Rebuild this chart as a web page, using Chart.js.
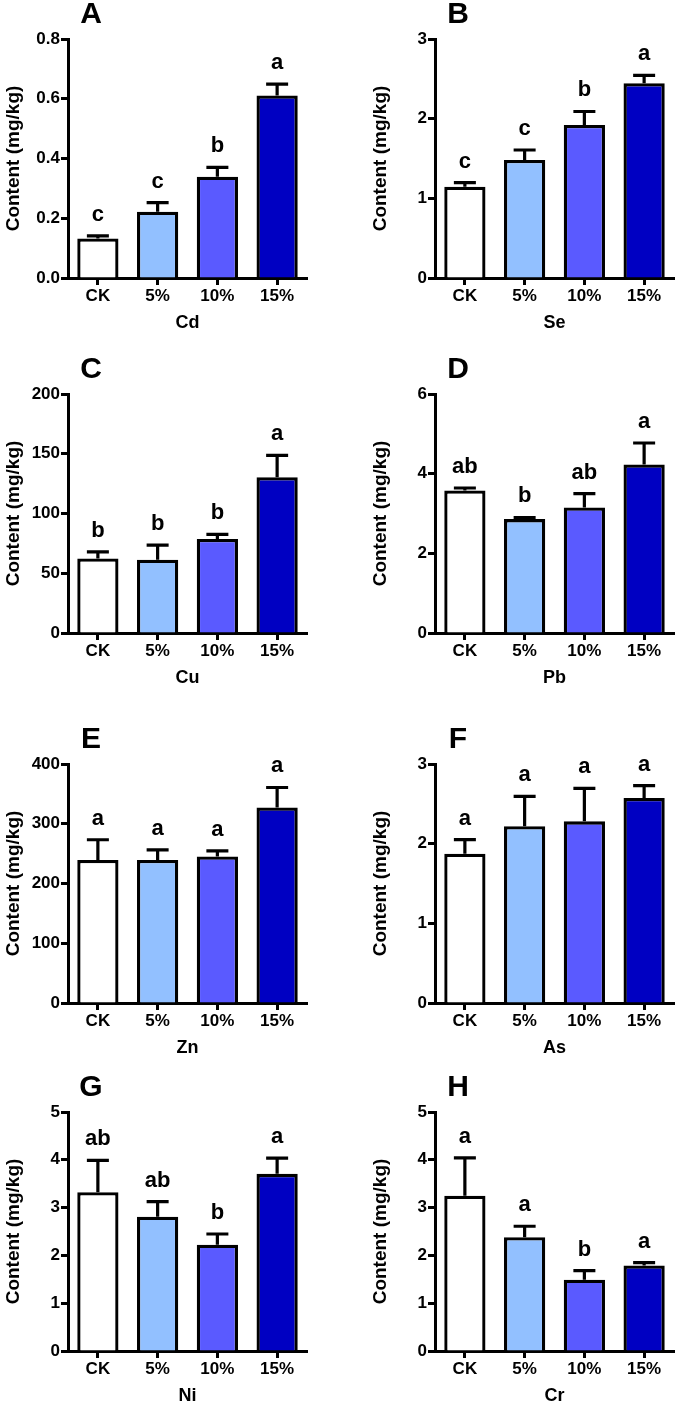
<!DOCTYPE html>
<html>
<head>
<meta charset="utf-8">
<script src="https://cdn.jsdelivr.net/npm/chart.js@4.4.1/dist/chart.umd.min.js"></script>
<style>
  html, body { margin: 0; padding: 0; background: #fff; overflow: hidden; }
  #wrap { position: relative; width: 675px; height: 1404px; }
  canvas { position: absolute; }
</style>
</head>
<body>
<div id="wrap"></div>
<script>
// kategori perlakuan
const groups = ["CK", "5%", "10%", "15%"];

// nilai rata-rata, error atas, dan huruf signifikansi per unsur
const cdMean = [0.132, 0.222, 0.339, 0.611];
const cdErr = [0.009, 0.030, 0.031, 0.038];
const cdSig = ["c", "c", "b", "a"];

const seMean = [1.145, 1.481, 1.922, 2.446];
const seErr = [0.051, 0.126, 0.168, 0.097];
const seSig = ["c", "c", "b", "a"];

const cuMean = [62.3, 61.4, 78.6, 130.4];
const cuErr = [5.6, 12.1, 3.9, 18.3];
const cuSig = ["b", "b", "b", "a"];

const pbMean = [3.58, 2.86, 3.15, 4.23];
const pbErr = [0.06, 0.04, 0.35, 0.54];
const pbSig = ["ab", "b", "ab", "a"];

const znMean = [239.5, 239.5, 245.2, 327.1];
const znErr = [33.7, 16.9, 9.5, 33.6];
const znSig = ["a", "a", "a", "a"];

const asMean = [1.874, 2.218, 2.28, 2.573];
const asErr = [0.176, 0.376, 0.415, 0.155];
const asSig = ["a", "a", "a", "a"];

const niMean = [3.32, 2.81, 2.224, 3.706];
const niErr = [0.666, 0.316, 0.224, 0.329];
const niSig = ["ab", "ab", "b", "a"];

const crMean = [3.25, 2.38, 1.49, 1.79];
const crErr = [0.79, 0.23, 0.19, 0.06];
const crSig = ["a", "a", "b", "a"];

// tick sumbu y
const cdTicks = [0, 0.2, 0.4, 0.6, 0.8];
const seTicks = [0, 1, 2, 3];
const cuTicks = [0, 50, 100, 150, 200];
const pbTicks = [0, 2, 4, 6];
const znTicks = [0, 100, 200, 300, 400];
const asTicks = [0, 1, 2, 3];
const niTicks = [0, 1, 2, 3, 4, 5];
const crTicks = [0, 1, 2, 3, 4, 5];

const barColors = ["#ffffff", "#92c0ff", "#5a5aff", "#0000c2"];
const FONT = "Arial, 'Liberation Sans', sans-serif";

const panels = [
  { letter: "A", el: "Cd", mean: cdMean, err: cdErr, sig: cdSig, ticks: cdTicks, dec: 1, left: 0, top: 0 },
  { letter: "B", el: "Se", mean: seMean, err: seErr, sig: seSig, ticks: seTicks, dec: 0, left: 367, top: 0 },
  { letter: "C", el: "Cu", mean: cuMean, err: cuErr, sig: cuSig, ticks: cuTicks, dec: 0, left: 0, top: 355 },
  { letter: "D", el: "Pb", mean: pbMean, err: pbErr, sig: pbSig, ticks: pbTicks, dec: 0, left: 367, top: 355 },
  { letter: "E", el: "Zn", mean: znMean, err: znErr, sig: znSig, ticks: znTicks, dec: 0, left: 0, top: 725 },
  { letter: "F", el: "As", mean: asMean, err: asErr, sig: asSig, ticks: asTicks, dec: 0, left: 367, top: 725 },
  { letter: "G", el: "Ni", mean: niMean, err: niErr, sig: niSig, ticks: niTicks, dec: 0, left: 0, top: 1073 },
  { letter: "H", el: "Cr", mean: crMean, err: crErr, sig: crSig, ticks: crTicks, dec: 0, left: 367, top: 1073 },
];

// error bar + huruf signifikansi + label panel
function makeAnnot(p) {
  return {
    id: "annot" + p.letter,
    afterDatasetsDraw(chart) {
      const ctx = chart.ctx;
      const ys = chart.scales.y;
      const meta = chart.getDatasetMeta(0);
      ctx.save();
      ctx.strokeStyle = "#000";
      ctx.fillStyle = "#000";
      ctx.lineWidth = 3.2;
      meta.data.forEach((bar, i) => {
        const top = ys.getPixelForValue(p.mean[i] + p.err[i]);
        ctx.beginPath();
        ctx.moveTo(bar.x, bar.y);
        ctx.lineTo(bar.x, top);
        ctx.moveTo(bar.x - 11, top);
        ctx.lineTo(bar.x + 11, top);
        ctx.stroke();
        ctx.font = "bold 22px " + FONT;
        ctx.textAlign = "center";
        ctx.textBaseline = "alphabetic";
        ctx.fillText(p.sig[i], bar.x, top - 15);
      });
      ctx.font = "bold 30px " + FONT;
      ctx.textAlign = "center";
      ctx.textBaseline = "middle";
      ctx.fillText(p.letter, chart.chartArea.left + 23, chart.chartArea.top - 24);
      ctx.restore();
    },
  };
}

const wrap = document.getElementById("wrap");
panels.forEach((p) => {
  const cv = document.createElement("canvas");
  cv.width = 310;
  cv.height = 334;
  cv.style.left = p.left + "px";
  cv.style.top = p.top + "px";
  wrap.appendChild(cv);
  const maxV = p.ticks[p.ticks.length - 1];

  new Chart(cv, {
    type: "bar",
    data: {
      labels: groups,
      datasets: [
        {
          data: p.mean,
          backgroundColor: barColors,
          borderColor: "#000",
          borderWidth: 3.3,
          barPercentage: 0.69,
          categoryPercentage: 1,
        },
      ],
    },
    options: {
      responsive: false,
      animation: false,
      layout: { padding: { top: 39, left: 0, right: 3, bottom: 0 } },
      plugins: { legend: { display: false }, tooltip: { enabled: false } },
      scales: {
        x: {
          afterFit: (s) => { s.height = 56; },
          grid: {
            offset: false,
            drawOnChartArea: false,
            drawTicks: true,
            tickLength: 7,
            tickColor: "#000",
            tickWidth: 3,
          },
          border: { display: true, color: "#000", width: 3 },
          ticks: { color: "#000", padding: 1, font: { family: FONT, size: 17, weight: "bold" } },
          title: {
            display: true,
            text: p.el,
            color: "#000",
            padding: { top: 0, bottom: 0 },
            font: { family: FONT, size: 18, weight: "bold" },
          },
        },
        y: {
          min: 0,
          max: maxV,
          afterFit: (s) => { s.width = 68; },
          afterBuildTicks: (s) => { s.ticks = p.ticks.map((v) => ({ value: v })); },
          grid: {
            drawOnChartArea: false,
            drawTicks: true,
            tickLength: 7,
            tickColor: "#000",
            tickWidth: 3,
          },
          border: { display: true, color: "#000", width: 3 },
          ticks: {
            color: "#000",
            padding: 1,
            font: { family: FONT, size: 17, weight: "bold" },
            callback: (v) => Number(v).toFixed(p.dec),
          },
          title: {
            display: true,
            text: "Content (mg/kg)",
            color: "#000",
            padding: { top: 2, bottom: 0 },
            font: { family: FONT, size: 19, weight: "bold" },
          },
        },
      },
    },
    plugins: [makeAnnot(p)],
  });
});
</script>
</body>
</html>
